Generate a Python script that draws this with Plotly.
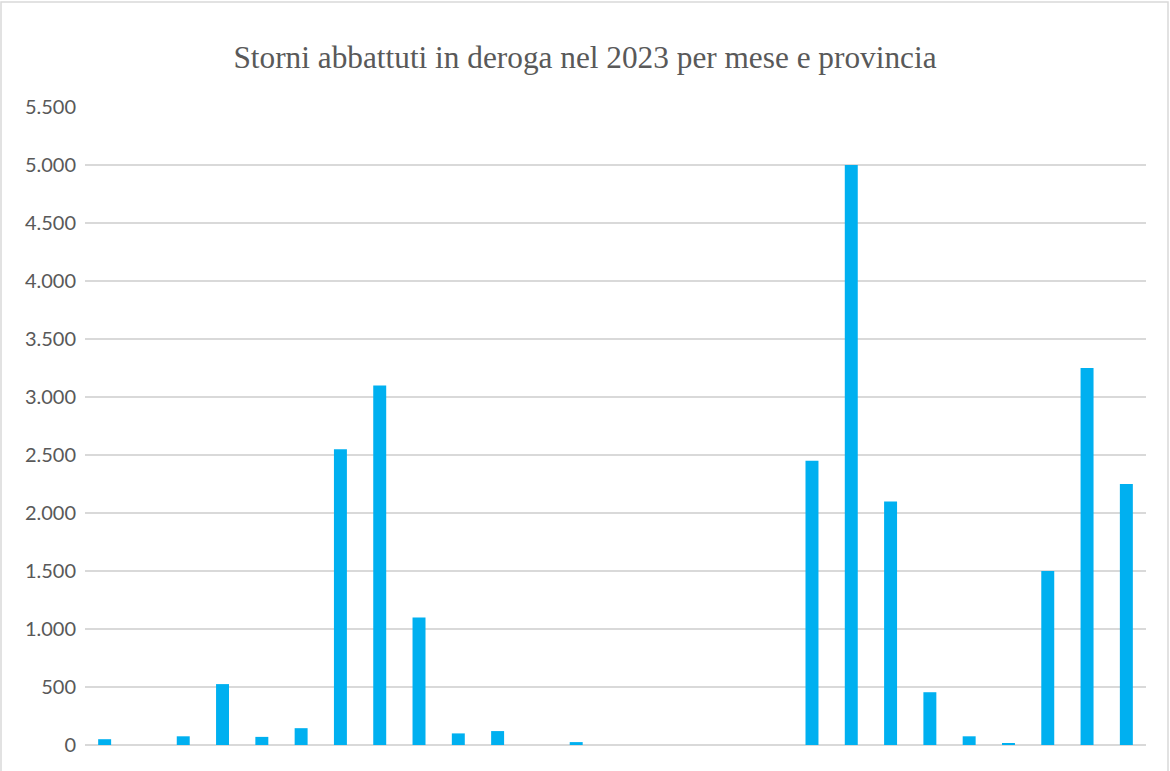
import plotly.graph_objects as go

categories = [str(i) for i in range(1, 28)]
values = [50, 0, 75, 525, 70, 145, 2550, 3100, 1100, 100, 120, 0, 25,
          0, 0, 0, 0, 0, 2450, 5000, 2100, 455, 75, 15, 1500, 3250, 2250]
title_text = "Storni abbattuti in deroga nel 2023 per mese e provincia"
y_ticks = [0, 500, 1000, 1500, 2000, 2500, 3000, 3500, 4000, 4500, 5000, 5500]

W, H = 1170, 771
ml, mr, mt, mb = 85, 24, 107, 26
pw, ph = W - ml - mr, H - mt - mb

fig = go.Figure(go.Bar(x=categories, y=values, marker_color="#00b0f0",
                       marker_line_width=0))

fig.update_layout(
    width=W, height=H,
    margin=dict(l=ml, r=mr, t=mt, b=mb),
    paper_bgcolor="white", plot_bgcolor="white",
    bargap=0.67,
    separators=",.",
    showlegend=False,
    title=dict(text=title_text, x=0.5, xanchor="center", y=1 - 57 / H, yanchor="middle",
               font=dict(family="Liberation Serif", size=31.3, color="#595959")),
    xaxis=dict(showticklabels=False, showgrid=False, zeroline=False, showline=False,
               ticks=""),
    yaxis=dict(range=[0, 5500], tickvals=y_ticks, tickformat=",d",
               showgrid=True, gridcolor="#d9d9d9", gridwidth=1.5,
               zeroline=True, zerolinecolor="#d9d9d9", zerolinewidth=1.5,
               showline=False, ticks="", ticklabelstandoff=8,
               tickfont=dict(family="Lato", size=20, color="#595959")),
    shapes=[dict(type="rect", xref="paper", yref="paper",
                 x0=(1 - ml) / pw, x1=(1168 - ml) / pw,
                 y0=(H - mb - 780) / ph, y1=(H - mb - 2) / ph,
                 line=dict(color="#d9d9d9", width=1.5), fillcolor="rgba(0,0,0,0)",
                 layer="below")],
)

fig.write_html("out.html", config={"displayModeBar": False},
               post_script="document.body.style.margin='0';document.body.style.overflow='hidden';")
